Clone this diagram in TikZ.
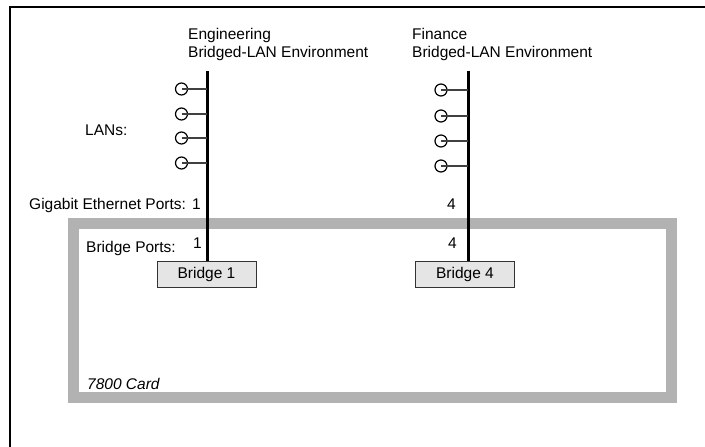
\documentclass[tikz,border=0pt]{standalone}
\usepackage{fontspec}
\setmainfont{Liberation Sans}
\begin{document}
\begin{tikzpicture}[x=1pt,y=-1pt,
  lbl/.style={inner sep=0pt,anchor=base west,font=\fontsize{15.5}{18}\selectfont},
  bus/.style={line width=3pt,black},
  stub/.style={line width=1.4pt,black!75},
  lanring/.style={draw=black,line width=1.2pt,circle,minimum size=12pt,inner sep=0pt},
  bridgebox/.style={draw=black!80,line width=1pt,fill=black!10,minimum width=99pt,minimum height=26pt,inner sep=0pt,font=\fontsize{15.5}{18}\selectfont},
  cardframe/.style={draw=black!30,line width=11pt},
  pageframe/.style={draw=black,line width=1.6pt}]
\useasboundingbox (0,0) rectangle (705,447);
% page frame (top and left edges only)
\coordinate (fa) at (705,7);
\coordinate (fb) at (10,7);
\coordinate (fc) at (10,447);
\draw[pageframe] (fa) -- (fb) -- (fc);
% card frame
\coordinate (c1) at (73.5,223);
\coordinate (c2) at (671.5,397.5);
\draw[cardframe] (c1) rectangle (c2);
% texts
\node[lbl] (eng1) at (188,39) {Engineering};
\node[lbl] (eng2) at (188,57) {Bridged-LAN Environment};
\node[lbl] (fin1) at (412,39) {Finance};
\node[lbl] (fin2) at (412,57) {Bridged-LAN Environment};
\node[lbl] (lans) at (85,135) {LANs:};
\node[lbl] (gig) at (29,209) {Gigabit Ethernet Ports:};
\node[lbl] (gig1) at (192,209) {1};
\node[lbl] (gig4) at (447,209) {4};
\node[lbl] (bp) at (86,252) {Bridge Ports:};
\node[lbl] (bp1) at (193,248) {1};
\node[lbl] (bp4) at (448,248) {4};
\node[lbl,font=\fontsize{15.5}{18}\selectfont\itshape] (card) at (87,389) {7800 Card};
% bridges
\node[bridgebox] (br1) at (206.5,274) {Bridge 1};
\node[bridgebox] (br4) at (465,274) {Bridge 4};
% buses
\coordinate (etop) at (207,71);
\coordinate (ftop) at (468,71);
\draw[bus] (etop) -- (etop |- br1.north);
\draw[bus] (ftop) -- (ftop |- br4.north);
% LAN rings
\foreach \i/\y in {1/89,2/114,3/138,4/163}{
  \node[lanring] (el\i) at (181.5,\y) {};
  \coordinate (ej\i) at (207,\y);
  \draw[stub] (el\i.center) -- (ej\i);
}
\foreach \i/\y in {1/90,2/116,3/141,4/166}{
  \node[lanring] (fl\i) at (441,\y) {};
  \coordinate (fj\i) at (468,\y);
  \draw[stub] (fl\i.center) -- (fj\i);
}
\end{tikzpicture}
\end{document}
